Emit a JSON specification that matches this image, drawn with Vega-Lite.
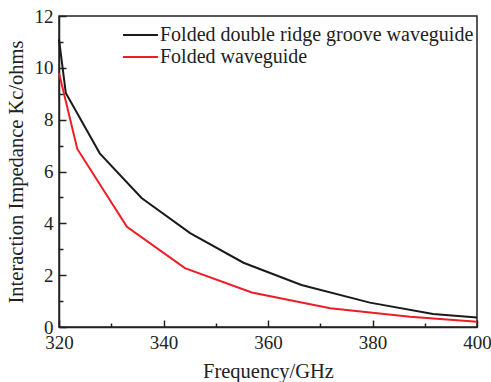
{
  "$schema": "https://vega.github.io/schema/vega-lite/v6.json",
  "width": 418,
  "height": 311,
  "autosize": {"type": "none"},
  "padding": {"left": 59, "top": 16, "right": 14, "bottom": 55},
  "background": "white",
  "config": {
    "font": "Liberation Serif",
    "view": {"stroke": "#222222", "strokeWidth": 1.5},
    "legend": {"labelFont": "Liberation Serif"},
    "axis": {
      "domainColor": "#222222",
      "domainWidth": 1.5,
      "tickColor": "#222222",
      "tickWidth": 1.5,
      "labelFont": "Liberation Serif",
      "labelFontSize": 19,
      "labelColor": "#222222",
      "labelFlush": false,
      "titleFont": "Liberation Serif",
      "titleFontSize": 20.5,
      "titleFontWeight": "normal",
      "titleColor": "#222222",
      "grid": false
    }
  },
  "data": {
    "values": [
      {"f": 320.0, "k": 11.1, "s": "Folded double ridge groove waveguide"},
      {"f": 321.3, "k": 9.03, "s": "Folded double ridge groove waveguide"},
      {"f": 327.8, "k": 6.7, "s": "Folded double ridge groove waveguide"},
      {"f": 335.8, "k": 4.98, "s": "Folded double ridge groove waveguide"},
      {"f": 345.1, "k": 3.62, "s": "Folded double ridge groove waveguide"},
      {"f": 355.3, "k": 2.48, "s": "Folded double ridge groove waveguide"},
      {"f": 366.4, "k": 1.62, "s": "Folded double ridge groove waveguide"},
      {"f": 379.5, "k": 0.94, "s": "Folded double ridge groove waveguide"},
      {"f": 391.6, "k": 0.5, "s": "Folded double ridge groove waveguide"},
      {"f": 400.0, "k": 0.37, "s": "Folded double ridge groove waveguide"},
      {"f": 320.0, "k": 9.8, "s": "Folded waveguide"},
      {"f": 323.5, "k": 6.87, "s": "Folded waveguide"},
      {"f": 333.0, "k": 3.87, "s": "Folded waveguide"},
      {"f": 344.1, "k": 2.27, "s": "Folded waveguide"},
      {"f": 356.9, "k": 1.33, "s": "Folded waveguide"},
      {"f": 371.9, "k": 0.72, "s": "Folded waveguide"},
      {"f": 387.2, "k": 0.4, "s": "Folded waveguide"},
      {"f": 400.0, "k": 0.2, "s": "Folded waveguide"}
    ]
  },
  "mark": {"type": "line", "strokeWidth": 2},
  "encoding": {
    "x": {
      "field": "f",
      "type": "quantitative",
      "scale": {"domain": [320, 400], "nice": false, "zero": false},
      "axis": {
        "title": "Frequency/GHz",
        "values": [320, 330, 340, 350, 360, 370, 380, 390, 400],
        "labelExpr": "datum.value % 20 === 0 ? datum.label : ''",
        "labelFont": "Liberation Serif",
        "labelFlush": false,
        "tickSize": {"condition": {"test": "datum.value % 20 === 0", "value": -7}, "value": -4},
        "labelPadding": 13,
        "titlePadding": 9
      }
    },
    "y": {
      "field": "k",
      "type": "quantitative",
      "scale": {"domain": [0, 12], "nice": false},
      "axis": {
        "title": "Interaction Impedance Kc/ohms",
        "values": [0, 1, 2, 3, 4, 5, 6, 7, 8, 9, 10, 11, 12],
        "labelExpr": "datum.value % 2 === 0 ? datum.label : ''",
        "labelFont": "Liberation Serif",
        "labelFlush": false,
        "tickSize": {"condition": {"test": "datum.value % 2 === 0", "value": -7}, "value": -4},
        "labelPadding": 13,
        "titlePadding": 8
      }
    },
    "color": {
      "field": "s",
      "type": "nominal",
      "scale": {
        "domain": ["Folded double ridge groove waveguide", "Folded waveguide"],
        "range": ["#1a1a1a", "#ee1c25"]
      },
      "legend": {
        "title": null,
        "orient": "none",
        "legendX": 63,
        "legendY": 9,
        "symbolType": "stroke",
        "symbolSize": 1225,
        "symbolStrokeWidth": 2,
        "clipHeight": 20,
        "labelFont": "Liberation Serif",
        "labelFontSize": 20,
        "labelColor": "#222222",
        "labelOffset": 1,
        "rowPadding": 2,
        "labelLimit": 400
      }
    }
  }
}
